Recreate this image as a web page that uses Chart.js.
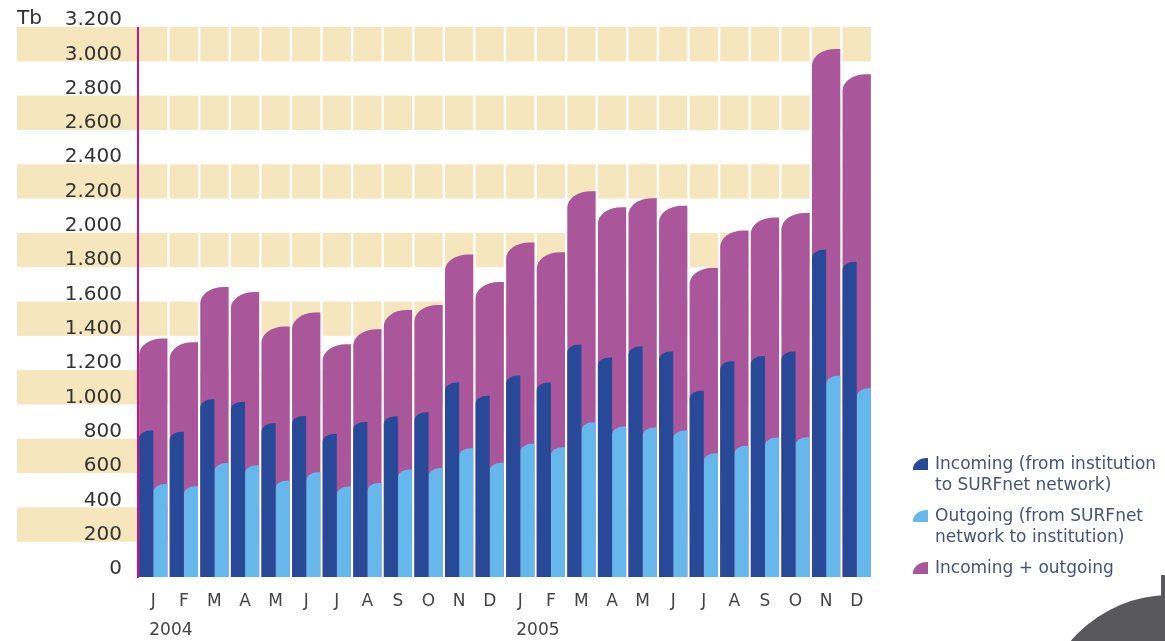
<!DOCTYPE html>
<html>
<head>
<meta charset="utf-8">
<script src="https://cdn.jsdelivr.net/npm/chart.js@4"></script>
<style>
  html, body { margin: 0; padding: 0; background: #fff; overflow: hidden; }
  #wrap { position: relative; width: 1165px; height: 641px; }
  #legend { position: absolute; left: 913px; top: 453px; font: 17px 'DejaVu Sans', sans-serif; color: #46517d; }
  .item { position: relative; padding-left: 22px; line-height: 21px; margin-bottom: 10px; white-space: nowrap; }
  .swatch { position: absolute; left: 0; top: 5px; width: 15px; height: 12px; border-top-left-radius: 14px 11px; }
  #blob { position: absolute; left: 1040px; top: 595px; width: 260px; height: 260px; border-radius: 50%; background: #59595b; }
  #blobEdge { position: absolute; left: 1161px; top: 575px; width: 4px; height: 66px; background: #59595b; }
</style>
</head>
<body>
<div id="wrap">
  <canvas id="trafficChart" width="1165" height="641"></canvas>
  <div id="legend">
    <div class="item"><span class="swatch" style="background:#284898"></span>Incoming (from institution<br>to SURFnet network)</div>
    <div class="item"><span class="swatch" style="background:#66b8ec"></span>Outgoing (from SURFnet<br>network to institution)</div>
    <div class="item"><span class="swatch" style="background:#a9579a"></span>Incoming + outgoing</div>
  </div>
  <div id="blob"></div>
  <div id="blobEdge"></div>
</div>
<script>
const months = ['J', 'F', 'M', 'A', 'M', 'J', 'J', 'A', 'S', 'O', 'N', 'D',
                'J', 'F', 'M', 'A', 'M', 'J', 'J', 'A', 'S', 'O', 'N', 'D'];
const years = ['2004', '2005'];
const incoming = [854, 846, 1036, 1022, 896, 939, 834, 904, 937, 960, 1133, 1057,
                  1175, 1134, 1355, 1280, 1343, 1314, 1086, 1258, 1288, 1314, 1907, 1837];
const outgoing = [542, 529, 664, 652, 563, 610, 527, 548, 627, 635, 751, 666,
                  776, 757, 902, 877, 871, 854, 722, 765, 813, 815, 1173, 1100];
const total = [1390, 1369, 1690, 1661, 1460, 1541, 1357, 1444, 1557, 1586, 1880, 1719,
               1950, 1893, 2248, 2155, 2207, 2164, 1802, 2019, 2095, 2122, 3077, 2931];

const FONT = "'DejaVu Sans', sans-serif";

// bars with a quarter-ellipse top-left corner (geometry still from chart.js)
Chart.BarElement.prototype.draw = function (ctx) {
    const { x, y, base, width } = this.getProps(['x', 'y', 'base', 'width']);
    const left = x - width / 2, right = x + width / 2;
    const top = Math.min(y, base), bottom = Math.max(y, base);
    const rx = width * 0.82;
    const ry = Math.min(rx * 0.7, bottom - top);
    ctx.save();
    ctx.fillStyle = this.options.backgroundColor;
    ctx.beginPath();
    ctx.moveTo(left, bottom);
    ctx.lineTo(left, top + ry);
    ctx.ellipse(left + rx, top + ry, rx, ry, 0, Math.PI, Math.PI * 1.5);
    ctx.lineTo(right, top);
    ctx.lineTo(right, bottom);
    ctx.closePath();
    ctx.fill();
    ctx.restore();
};

// beige bands with white cell gaps, drawn under everything
const bands = {
    id: 'bands',
    beforeDraw(chart) {
        const { ctx, chartArea, scales: { x, y } } = chart;
        const half = (x.getPixelForValue(1) - x.getPixelForValue(0)) / 2;
        ctx.save();
        ctx.fillStyle = '#f5e6be';
        for (let v = 200; v < y.max; v += 400) {
            const top = y.getPixelForValue(v + 200) - 1;
            const h = y.getPixelForValue(v) - y.getPixelForValue(v + 200);
            ctx.fillRect(17, top, chartArea.left - 17, h);
            for (let i = 0; i < months.length; i++) {
                const c = x.getPixelForValue(i);
                ctx.fillRect(c - half + 1.2, top, half * 2 - 2.4, h);
            }
        }
        ctx.restore();
    },
    afterDraw(chart) {
        const { ctx, scales: { x } } = chart;
        ctx.save();
        ctx.fillStyle = '#333';
        ctx.font = '20px ' + FONT;
        ctx.textBaseline = 'middle';
        ctx.textAlign = 'left';
        ctx.fillText('Tb', 17, 19);
        ctx.fillStyle = '#444';
        ctx.font = '17px ' + FONT;
        years.forEach((yr, k) => {
            ctx.fillText(yr, x.getPixelForValue(k * 12) - 4, 631);
        });
        ctx.restore();
    }
};

new Chart(document.getElementById('trafficChart'), {
    type: 'bar',
    data: {
        labels: months,
        datasets: [
            {
                label: 'Incoming (from institution to SURFnet network)',
                data: incoming,
                backgroundColor: '#284898',
                order: 1
            },
            {
                label: 'Outgoing (from SURFnet network to institution)',
                data: outgoing,
                backgroundColor: '#66b8ec',
                order: 1
            },
            {
                label: 'Incoming + outgoing',
                data: total,
                backgroundColor: '#a9579a',
                grouped: false,
                barPercentage: 1,
                categoryPercentage: 0.925,
                order: 2
            }
        ]
    },
    options: {
        responsive: false,
        animation: false,
        datasets: { bar: { categoryPercentage: 0.925, barPercentage: 1 } },
        layout: { padding: { top: 26, right: 293, left: 0, bottom: 0 } },
        plugins: { legend: { display: false }, tooltip: { enabled: false } },
        scales: {
            x: {
                grid: { display: false, drawTicks: false },
                border: { display: false },
                ticks: { color: '#444', font: { family: FONT, size: 17 }, padding: 14, autoSkip: false, maxRotation: 0 },
                afterFit(scale) { scale.height = 64; }
            },
            y: {
                min: 0,
                max: 3200,
                grid: { display: false, drawTicks: false },
                border: { display: true, color: '#c8127f', width: 2 },
                ticks: {
                    stepSize: 200,
                    autoSkip: false,
                    color: '#333',
                    padding: 16,
                    labelOffset: -8,
                    font: { family: FONT, size: 20 },
                    callback: v => String(v).replace(/\B(?=(\d{3})+(?!\d))/g, '.')
                },
                afterFit(scale) { scale.width = 138; }
            }
        }
    },
    plugins: [bands]
});
</script>
</body>
</html>
